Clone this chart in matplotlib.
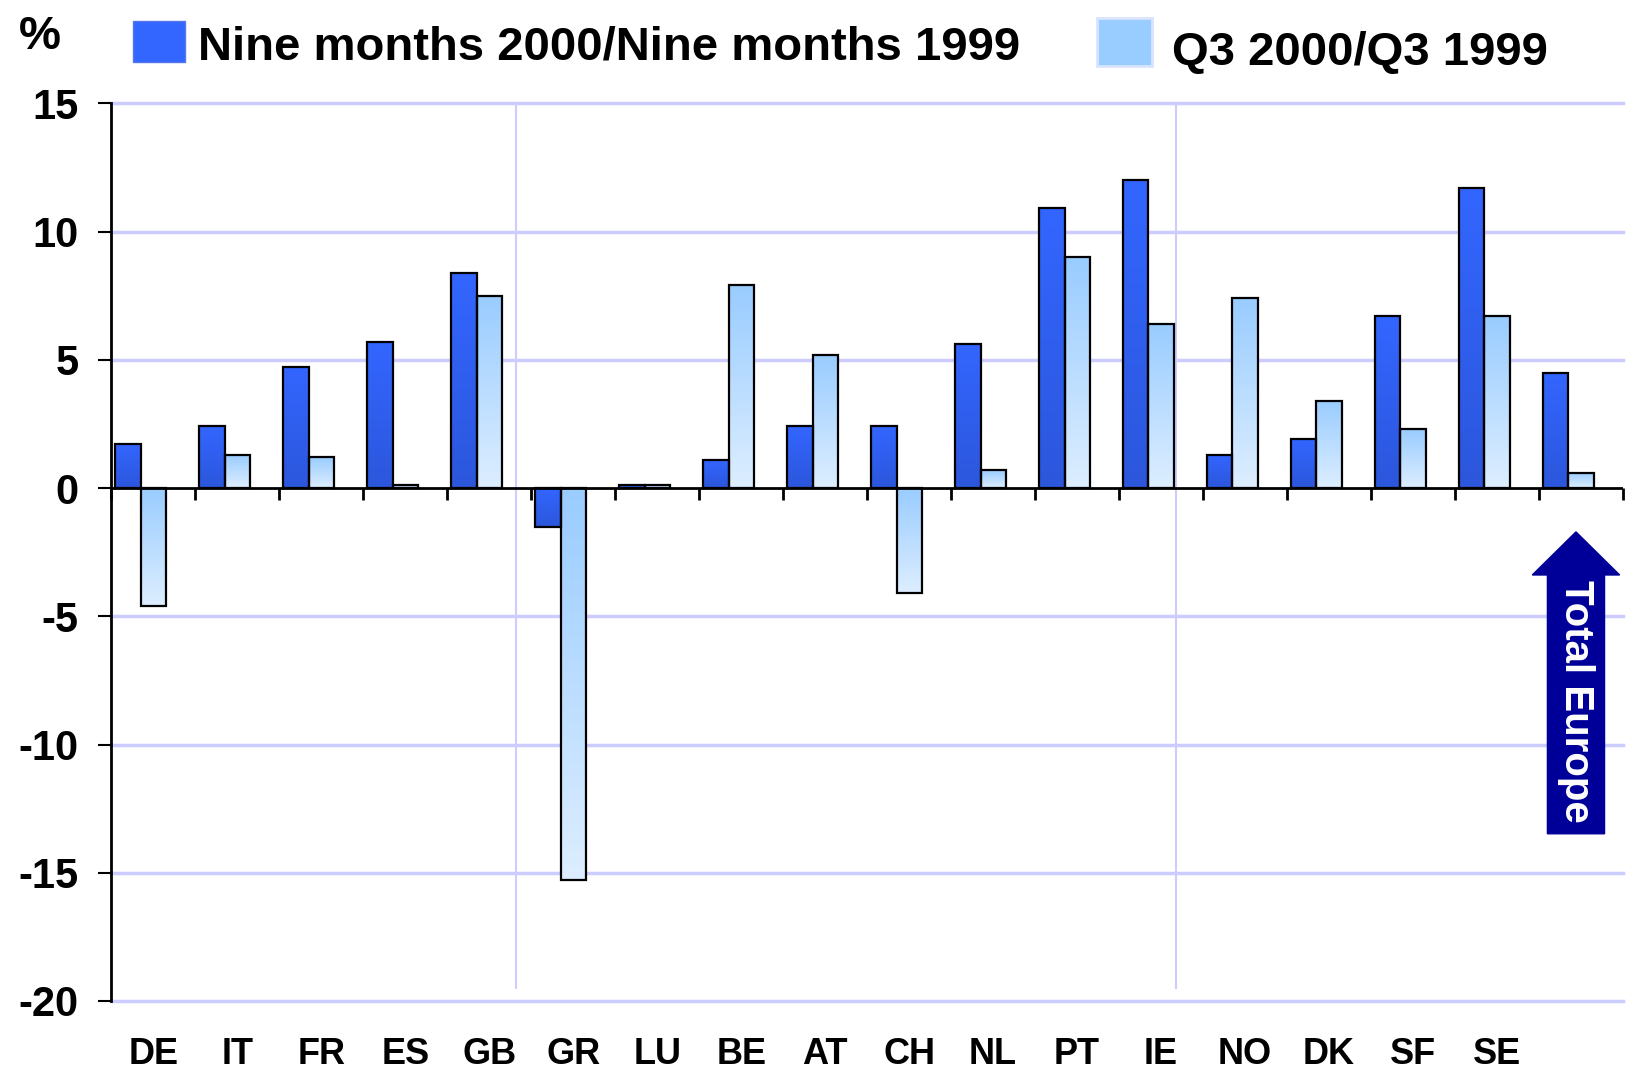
import numpy as np
import matplotlib.pyplot as plt
from matplotlib.patches import Rectangle, FancyArrow

plt.rcParams['font.family'] = ['Liberation Sans', 'DejaVu Sans']
plt.rcParams['font.weight'] = 'bold'

# data
countries = ["DE", "IT", "FR", "ES", "GB", "GR", "LU", "BE", "AT", "CH",
             "NL", "PT", "IE", "NO", "DK", "SF", "SE", ""]
nine_months = [1.7, 2.4, 4.7, 5.7, 8.4, -1.5, 0.1, 1.1, 2.4, 2.4,
               5.6, 10.9, 12.0, 1.3, 1.9, 6.7, 11.7, 4.5]
q3 = [-4.6, 1.3, 1.2, 0.1, 7.5, -15.3, 0.1, 7.9, 5.2, -4.1,
      0.7, 9.0, 6.4, 7.4, 3.4, 2.3, 6.7, 0.6]
series_names = ["Nine months 2000/Nine months 1999", "Q3 2000/Q3 1999"]
yticks = [-20, -15, -10, -5, 0, 5, 10, 15]
separators = [4.82, 12.68]

W, H = 1631, 1069
fig = plt.figure(figsize=(W / 100, H / 100), dpi=100)
ax = fig.add_axes([111.3 / W, 1 - 1001 / H, (1623 - 111.3) / W, (1001 - 103.3) / H])

def fx(px):
    return px / W

def fy(py):
    return 1 - py / H

def grad(c_top, c_bot, n=256):
    a = np.array(plt.matplotlib.colors.to_rgb(c_top))
    b = np.array(plt.matplotlib.colors.to_rgb(c_bot))
    t = np.linspace(0, 1, n)[:, None]
    return (a + (b - a) * t)[:, None, :]

x = np.arange(len(countries))
b1 = ax.bar(x + 0.05, nine_months, width=0.3, align='edge', facecolor='none',
            edgecolor='black', linewidth=1.6, zorder=3)
b2 = ax.bar(x + 0.35, q3, width=0.3, align='edge', facecolor='none',
            edgecolor='black', linewidth=1.6, zorder=3)

g1 = grad('#3366ff', '#2c57dc')
g2 = grad('#99ccff', '#ddeeff')
for bars, g in ((b1, g1), (b2, g2)):
    for p in bars:
        y0 = p.get_y()
        y1 = y0 + p.get_height()
        ax.imshow(g, extent=(p.get_x(), p.get_x() + p.get_width(), min(y0, y1), max(y0, y1)),
                  aspect='auto', origin='upper', zorder=2)

# gridlines
for v in yticks:
    if v != 0:
        ax.axhline(v, color='#ccccff', lw=2.5, zorder=0, clip_on=False)
ax.vlines(separators, -19.55, 15, color='#ccccff', lw=1.5, zorder=0)

# zero line with category ticks
ax.axhline(0, color='black', lw=2, zorder=4)
ax.vlines(np.arange(len(countries) + 1), -0.45, 0, color='black', lw=2, zorder=4, clip_on=False)

ax.set_xlim(0, len(countries))
ax.set_ylim(-20, 15)
for s in ['top', 'right', 'bottom']:
    ax.spines[s].set_visible(False)
ax.spines['left'].set_linewidth(2)

ax.set_yticks(yticks)
ax.set_yticklabels([str(v) for v in yticks], fontsize=30, fontweight='bold')
ax.tick_params(axis='y', length=9.5, width=1.5, pad=14)
ax.set_xticks(x + 0.5)
ax.set_xticklabels(countries, fontsize=26, fontweight='bold')
ax.tick_params(axis='x', length=0, pad=26)

# Total Europe arrow
arr = FancyArrow(17.44, -13.48, 0, 11.77, width=0.68, head_width=1.04, head_length=1.68,
                 length_includes_head=True, color='#000099', zorder=5)
ax.add_patch(arr)
ax.text(17.44, -8.3, "Total Europe", rotation=-90, color='white', fontsize=29,
        fontweight='bold', ha='center', va='center', zorder=6)

# legend and unit label
fig.text(fx(40), fy(49), "%", fontsize=34, fontweight='bold', ha='center', va='baseline')
fig.add_artist(Rectangle((fx(133), fy(62)), (185 - 133) / W, (62 - 21) / H,
                         transform=fig.transFigure, facecolor='#3366ff', edgecolor='#5577ee', lw=1))
fig.text(fx(198), fy(60), series_names[0], fontsize=34, fontweight='bold', ha='left', va='baseline')
fig.add_artist(Rectangle((fx(1097), fy(66)), (1152 - 1097) / W, (66 - 18) / H,
                         transform=fig.transFigure, facecolor='#99ccff', edgecolor='#d8e4ff', lw=2))
fig.text(fx(1172), fy(65), series_names[1], fontsize=34, fontweight='bold', ha='left', va='baseline')

fig.savefig("out.png", dpi=100)
